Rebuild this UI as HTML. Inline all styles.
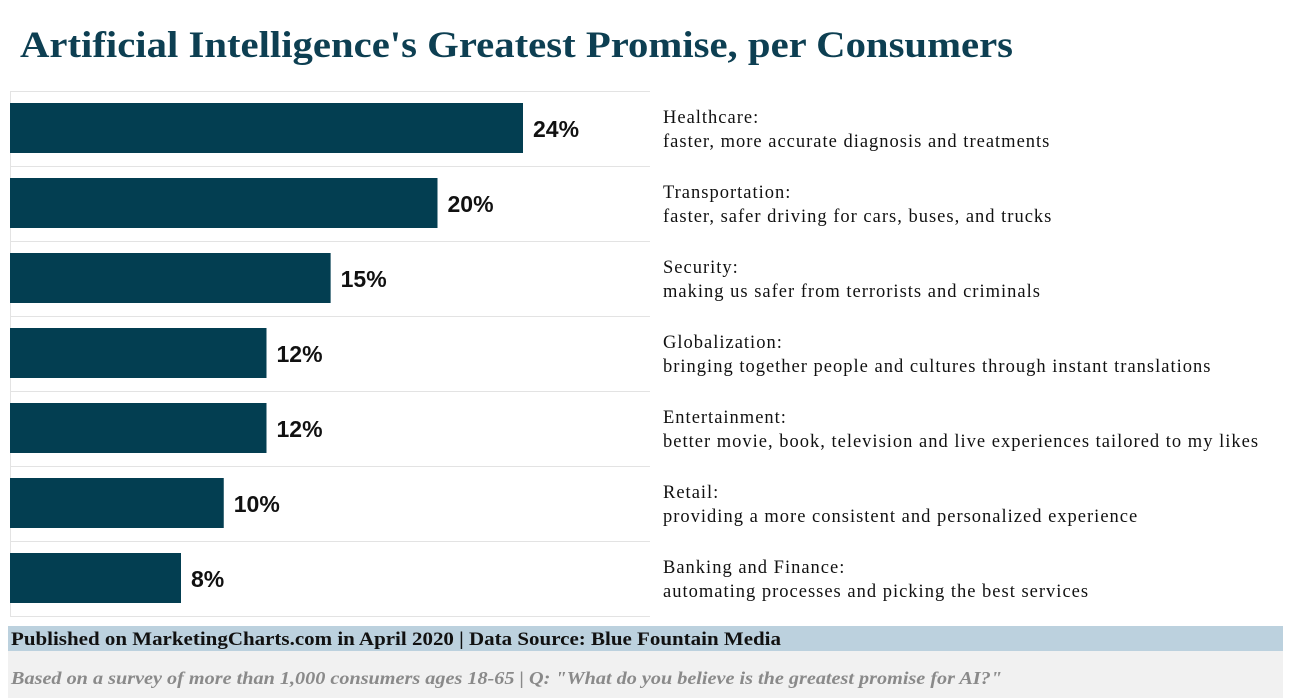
<!DOCTYPE html>
<html><head><meta charset="utf-8"><style>
body{margin:0;background:#fff;}
svg{display:block;}
</style></head><body>
<svg id="chart" width="1289" height="699" xmlns="http://www.w3.org/2000/svg">
<text x="20" y="57" font-family="Liberation Serif, serif" font-weight="bold" font-size="37" fill="#0d3f52" textLength="993" lengthAdjust="spacingAndGlyphs">Artificial Intelligence's Greatest Promise, per Consumers</text>
<g id="grid"></g>
<g id="bars"></g>
<g id="labels"></g>
<rect x="8" y="626" width="1275" height="25" fill="#bcd1de"/>
<text x="11" y="645" font-family="Liberation Serif, serif" font-weight="bold" font-size="19" fill="#111" textLength="770" lengthAdjust="spacingAndGlyphs">Published on MarketingCharts.com in April 2020 | Data Source: Blue Fountain Media</text>
<rect x="8" y="651" width="1275" height="47" fill="#f1f1f1"/>
<text x="11" y="684" font-family="Liberation Serif, serif" font-style="italic" font-weight="bold" font-size="18" fill="#8a8a8a" textLength="991" lengthAdjust="spacingAndGlyphs">Based on a survey of more than 1,000 consumers ages 18-65 | Q: "What do you believe is the greatest promise for AI?"</text>
</svg>
<script>
const categories=["Healthcare:","Transportation:","Security:","Globalization:","Entertainment:","Retail:","Banking and Finance:"];
const descriptions=["faster, more accurate diagnosis and treatments","faster, safer driving for cars, buses, and trucks","making us safer from terrorists and criminals","bringing together people and cultures through instant translations","better movie, book, television and live experiences tailored to my likes","providing a more consistent and personalized experience","automating processes and picking the best services"];
const values=[24,20,15,12,12,10,8];
const NS="http://www.w3.org/2000/svg";
const x0=10, pxPer=513/24, chartTop=91, rowH=75;
function xs(v){return x0+v*pxPer;}
function ys(i){return chartTop+i*rowH;}
const grid=document.getElementById('grid'),bars=document.getElementById('bars'),labels=document.getElementById('labels');
function mk(tag,attrs,parent){const e=document.createElementNS(NS,tag);for(const k in attrs)e.setAttribute(k,attrs[k]);parent.appendChild(e);return e;}
for(let i=0;i<=values.length;i++){
  const l=mk('line',{x1:10,x2:650,y1:ys(i)+0.5,y2:ys(i)+0.5,stroke:'#e3e3e3','stroke-width':1},grid);
  
  
}
const ax=mk('line',{x1:10.5,x2:10.5,y1:chartTop,y2:ys(values.length),stroke:'#e3e3e3'},grid);


values.forEach((v,i)=>{
  const y=ys(i)+12;
  const r=mk('rect',{x:x0,y:y,width:xs(v)-x0,height:50,fill:'#033e51'},bars);
  
  
  const t=mk('text',{x:xs(v)+10,y:y+34,'font-family':'Liberation Sans Narrow, Liberation Sans, sans-serif','font-weight':'bold','font-size':23,fill:'#111'},bars);
  t.textContent=v+'%';
  
  
  const c=mk('text',{x:663,y:y+20,'font-family':'Liberation Serif, serif','font-size':18.5,'letter-spacing':1,fill:'#111'},labels);
  c.textContent=categories[i];
  
  
  const d=mk('text',{x:663,y:y+44,'font-family':'Liberation Serif, serif','font-size':18.5,'letter-spacing':1,fill:'#111'},labels);
  d.textContent=descriptions[i];
  
  
});
</script>
</body></html>
